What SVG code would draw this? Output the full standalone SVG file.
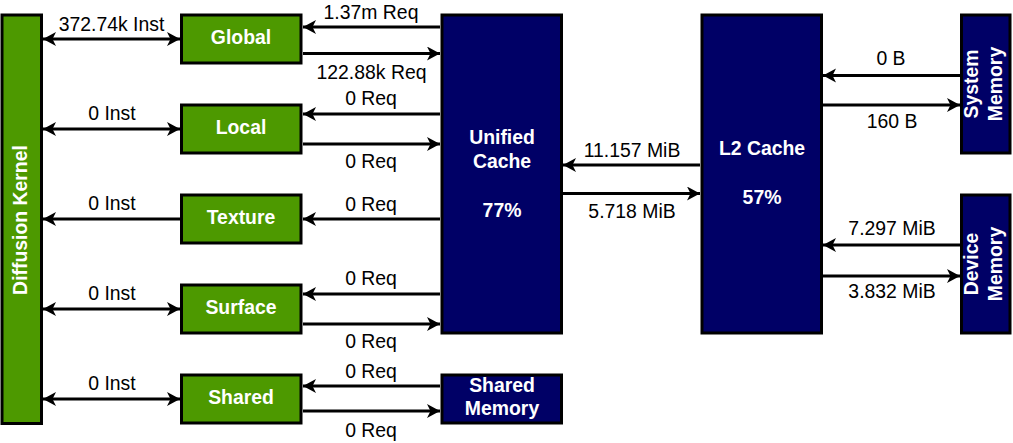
<svg xmlns="http://www.w3.org/2000/svg" width="1013" height="443" viewBox="0 0 1013 443">
<defs>
<style>
.g{fill:#4D9900;stroke:#000;stroke-width:3}
.n{fill:#000066;stroke:#000;stroke-width:3}
.bt{font-family:"Liberation Sans",Arial,sans-serif;font-weight:bold;font-size:19.4px;fill:#fff;text-anchor:middle}
.lt{font-family:"Liberation Sans",Arial,sans-serif;font-size:19.4px;fill:#000;text-anchor:middle}
.c line{stroke:#000;stroke-width:3;fill:none}
.e{marker-end:url(#ah)}
.d{marker-start:url(#ah);marker-end:url(#ah)}
</style>
<marker id="ah" markerUnits="userSpaceOnUse" markerWidth="15" markerHeight="15" refX="13" refY="7" orient="auto-start-reverse" viewBox="0 0 15 15">
<path d="M0,0 L13,7 L0,14 L3.5,7 Z" fill="#000"/>
</marker>
</defs>
<rect width="1013" height="443" fill="#fff"/>

<g id="connectors" class="c">
<line class="d" x1="43" y1="39" x2="180" y2="39"/>
<line class="d" x1="43" y1="129" x2="180" y2="129"/>
<line class="e" x1="180" y1="219" x2="43" y2="219"/>
<line class="d" x1="43" y1="309" x2="180" y2="309"/>
<line class="d" x1="43" y1="399" x2="180" y2="399"/>
<line class="e" x1="440" y1="27" x2="303" y2="27"/>
<line class="e" x1="303" y1="53.5" x2="440" y2="53.5"/>
<line class="e" x1="440" y1="114" x2="303" y2="114"/>
<line class="e" x1="303" y1="144" x2="440" y2="144"/>
<line class="e" x1="440" y1="219" x2="303" y2="219"/>
<line class="e" x1="440" y1="294" x2="303" y2="294"/>
<line class="e" x1="303" y1="324" x2="440" y2="324"/>
<line class="e" x1="440" y1="386" x2="303" y2="386"/>
<line class="e" x1="303" y1="411" x2="440" y2="411"/>
<line class="e" x1="700" y1="165" x2="563" y2="165"/>
<line class="e" x1="563" y1="193.5" x2="700" y2="193.5"/>
<line class="e" x1="960" y1="75.5" x2="823" y2="75.5"/>
<line class="e" x1="823" y1="105" x2="960" y2="105"/>
<line class="e" x1="960" y1="245" x2="823" y2="245"/>
<line class="e" x1="823" y1="276" x2="960" y2="276"/>
</g>

<g id="labels">
<text class="lt" x="111.5" y="30.5">372.74k Inst</text>
<text class="lt" x="112" y="120">0 Inst</text>
<text class="lt" x="112" y="210">0 Inst</text>
<text class="lt" x="112" y="300">0 Inst</text>
<text class="lt" x="112" y="390">0 Inst</text>
<text class="lt" x="371" y="19">1.37m Req</text>
<text class="lt" x="371.5" y="78.5">122.88k Req</text>
<text class="lt" x="371" y="105">0 Req</text>
<text class="lt" x="371" y="168">0 Req</text>
<text class="lt" x="371" y="210.5">0 Req</text>
<text class="lt" x="371" y="285">0 Req</text>
<text class="lt" x="371" y="348">0 Req</text>
<text class="lt" x="371" y="378">0 Req</text>
<text class="lt" x="371" y="437">0 Req</text>
<text class="lt" x="632" y="156.5">11.157 MiB</text>
<text class="lt" x="632" y="218">5.718 MiB</text>
<text class="lt" x="891" y="65">0 B</text>
<text class="lt" x="892" y="128">160 B</text>
<text class="lt" x="892" y="235">7.297 MiB</text>
<text class="lt" x="892" y="298">3.832 MiB</text>
</g>

<g id="kernel">
<rect class="g" x="2" y="15" width="39.5" height="408.5"/>
<text class="bt" transform="translate(27,220) rotate(-90)">Diffusion Kernel</text>
</g>
<g id="global">
<rect class="g" x="181.5" y="15" width="119.5" height="48"/>
<text class="bt" x="241" y="44">Global</text>
</g>
<g id="local">
<rect class="g" x="181.5" y="105" width="119.5" height="48"/>
<text class="bt" x="241" y="134">Local</text>
</g>
<g id="texture">
<rect class="g" x="181.5" y="195" width="119.5" height="48"/>
<text class="bt" x="241" y="224">Texture</text>
</g>
<g id="surface">
<rect class="g" x="181.5" y="285" width="119.5" height="48"/>
<text class="bt" x="241" y="314">Surface</text>
</g>
<g id="shared">
<rect class="g" x="181.5" y="375" width="119.5" height="48"/>
<text class="bt" x="241" y="404">Shared</text>
</g>
<g id="unified-cache">
<rect class="n" x="442" y="15" width="119.5" height="318"/>
<text class="bt" x="502" y="144">Unified</text>
<text class="bt" x="502" y="167.5">Cache</text>
<text class="bt" x="502" y="216.5">77%</text>
</g>
<g id="shared-memory">
<rect class="n" x="442" y="375" width="119.5" height="48"/>
<text class="bt" x="502" y="392">Shared</text>
<text class="bt" x="502" y="414.5">Memory</text>
</g>
<g id="l2-cache">
<rect class="n" x="702" y="15" width="119.5" height="318"/>
<text class="bt" x="762" y="155">L2 Cache</text>
<text class="bt" x="762" y="204">57%</text>
</g>
<g id="system-memory">
<rect class="n" x="961.5" y="15" width="48.5" height="138"/>
<text class="bt" transform="translate(977.5,84) rotate(-90)">System</text>
<text class="bt" transform="translate(1001.5,84) rotate(-90)">Memory</text>
</g>
<g id="device-memory">
<rect class="n" x="961.5" y="195" width="48.5" height="138"/>
<text class="bt" transform="translate(977.5,264) rotate(-90)">Device</text>
<text class="bt" transform="translate(1001.5,264) rotate(-90)">Memory</text>
</g>
</svg>
